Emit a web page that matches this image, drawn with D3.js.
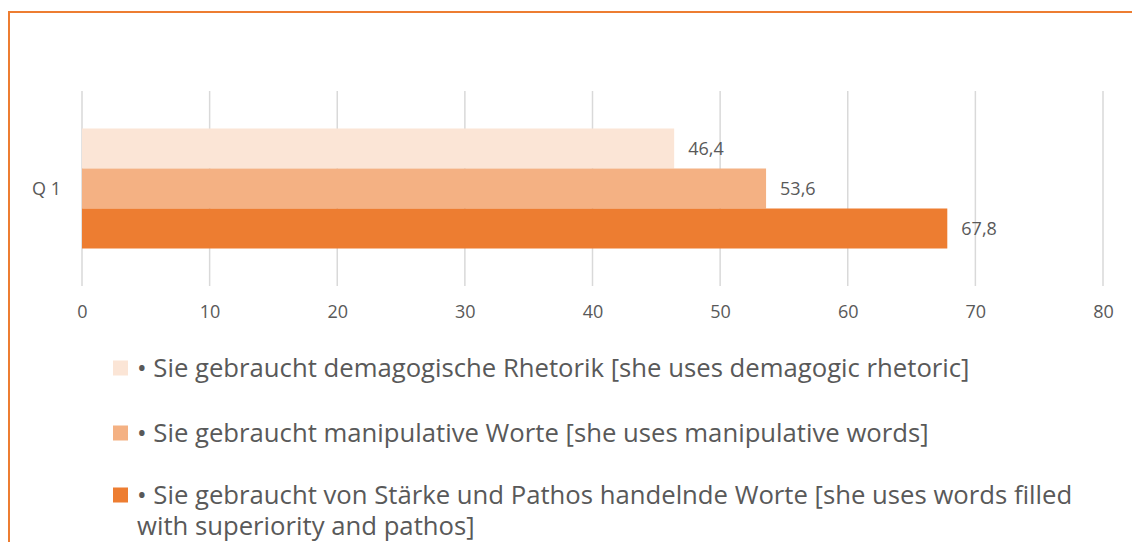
<!DOCTYPE html>
<html>
<head>
<meta charset="utf-8">
<script src="https://cdn.jsdelivr.net/npm/d3@7"></script>
<style>
  body { margin: 0; background: #fff; }
  svg { display: block; font-family: "Open Sans", sans-serif; }
</style>
</head>
<body>
<svg id="chart"></svg>
<script>
var categories = ["Q 1"];
var seriesNames = [
  "\u2022 Sie gebraucht demagogische Rhetorik [she uses demagogic rhetoric]",
  "\u2022 Sie gebraucht manipulative Worte [she uses manipulative words]",
  "\u2022 Sie gebraucht von St\u00e4rke und Pathos handelnde Worte [she uses words filled|with superiority and pathos]"
];
var seriesValues = [46.4, 53.6, 67.8];
var seriesColors = ["#fbe5d6", "#f4b183", "#ed7d31"];
var xTicks = [0, 10, 20, 30, 40, 50, 60, 70, 80];

var width = 1132,
    height = 542;

var svg = d3.select("#chart")
    .attr("width", width)
    .attr("height", height);

// chart border (runs off the right and bottom of the picture)
svg.append("rect")
    .attr("x", 9).attr("y", 12)
    .attr("width", 1200).attr("height", 600)
    .attr("fill", "none")
    .attr("stroke", "#ed7d31")
    .attr("stroke-width", 2);

var x = d3.scaleLinear()
    .domain([0, 80])
    .range([82, 1103]);

var y = d3.scaleBand()
    .domain(categories)
    .range([91, 286]);

var inner = d3.scaleBand()
    .domain(d3.range(seriesValues.length))
    .range([y("Q 1") + 37.5, y("Q 1") + y.bandwidth() - 37.5]);

// gridlines
svg.append("g")
  .selectAll("line")
  .data(xTicks)
  .join("line")
    .attr("x1", function(d) { return x(d); })
    .attr("x2", function(d) { return x(d); })
    .attr("y1", 91)
    .attr("y2", 286)
    .attr("stroke", "#d9d9d9")
    .attr("stroke-width", 1.5);

// x axis labels
var xAxis = d3.axisBottom(x)
    .tickValues(xTicks)
    .tickSize(0)
    .tickPadding(0);

svg.append("g")
    .attr("transform", "translate(0,305)")
    .call(xAxis)
    .call(function(g) { g.select(".domain").remove(); })
    .selectAll("text")
    .attr("font-family", "Open Sans, sans-serif")
    .attr("font-size", 18)
    .attr("fill", "#595959");

// category label
svg.append("g")
  .selectAll("text")
  .data(categories)
  .join("text")
    .attr("x", 61)
    .attr("y", function(d) { return y(d) + y.bandwidth() / 2 + 6; })
    .attr("text-anchor", "end")
    .attr("font-size", 18)
    .attr("fill", "#595959")
    .text(function(d) { return d; });

// bars
svg.append("g")
  .selectAll("rect")
  .data(seriesValues)
  .join("rect")
    .attr("x", x(0))
    .attr("y", function(d, i) { return inner(i); })
    .attr("width", function(d) { return x(d) - x(0); })
    .attr("height", inner.bandwidth())
    .attr("fill", function(d, i) { return seriesColors[i]; });

// value labels
svg.append("g")
  .selectAll("text")
  .data(seriesValues)
  .join("text")
    .attr("x", function(d) { return x(d) + 14; })
    .attr("y", function(d, i) { return inner(i) + inner.bandwidth() / 2 + 6; })
    .attr("font-size", 18)
    .attr("fill", "#595959")
    .text(function(d) { return d.toFixed(1).replace(".", ","); });

// legend
var legendY = [368, 433, 495];
var legend = svg.append("g")
  .selectAll("g")
  .data(seriesNames)
  .join("g")
    .attr("transform", function(d, i) { return "translate(113," + legendY[i] + ")"; });

legend.append("rect")
    .attr("x", 0).attr("y", -7.5)
    .attr("width", 15).attr("height", 15)
    .attr("fill", function(d, i) { return seriesColors[i]; });

legend.append("text")
    .attr("font-size", 25.7)
    .attr("fill", "#595959")
    .each(function(d) {
      var lines = d.split("|");
      var t = d3.select(this);
      lines.forEach(function(line, j) {
        t.append("tspan")
            .attr("x", 24)
            .attr("y", 9 + j * 31)
            .text(line);
      });
    });
</script>
</body>
</html>
